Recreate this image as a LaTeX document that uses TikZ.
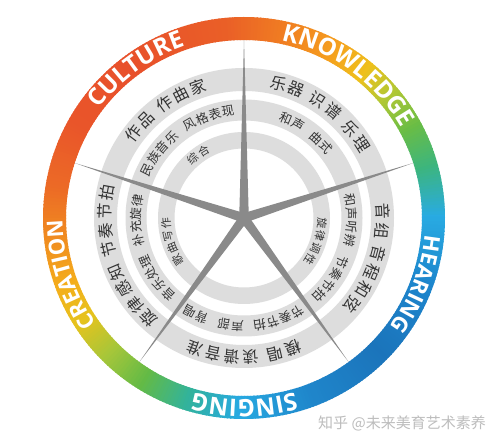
\documentclass[tikz,border=0pt]{standalone}
\usepackage{fontspec}
\setmainfont{Open Sans}
\newfontfamily\cjk{Noto Sans CJK SC}
\usetikzlibrary{decorations.text}

\definecolor{txt}{HTML}{333333}
\definecolor{bandc}{HTML}{DDDDDD}
\definecolor{spk}{HTML}{8A8A8A}
\definecolor{wmc}{HTML}{BDBDBD}
\definecolor{g000}{HTML}{29ABE2}
\definecolor{g015}{HTML}{3CB57E}
\definecolor{g028}{HTML}{6ABD45}
\definecolor{g040}{HTML}{B3C834}
\definecolor{g050}{HTML}{EFC01B}
\definecolor{g062}{HTML}{F59E1E}
\definecolor{g078}{HTML}{F07C22}
\definecolor{g095}{HTML}{EA5F27}
\definecolor{g126}{HTML}{E8502B}
\definecolor{g150}{HTML}{E9552A}
\definecolor{g170}{HTML}{EC6A26}
\definecolor{g185}{HTML}{F08A20}
\definecolor{g200}{HTML}{F4AE1B}
\definecolor{g212}{HTML}{E6C31D}
\definecolor{g225}{HTML}{A5C63A}
\definecolor{g238}{HTML}{63BA46}
\definecolor{g252}{HTML}{33B39A}
\definecolor{g268}{HTML}{27A9E1}
\definecolor{g290}{HTML}{1F86CB}
\definecolor{g315}{HTML}{1B74BB}
\definecolor{g340}{HTML}{1D86CD}

\makeatletter
\newcount\ac@nc
\newcount\ac@ng
\newcount\ac@id
\newdimen\ac@pos
\def\ac@gap{-}
% #1 radius, #2 centre angle, #3 font size, #4 char advance, #5 extra word gap, #6 list
\newcommand\ctxt[6]{%
  \global\ac@nc=0 \global\ac@ng=0
  \foreach \wch in {#6}{\ifx\wch\ac@gap\global\advance\ac@ng by 1 \else\global\advance\ac@nc by 1 \fi}%
  \pgfmathsetmacro\ac@L{\ac@nc*#4+\ac@ng*#5}%
  \global\ac@pos=0pt
  \foreach \wch in {#6}{%
    \ifx\wch\ac@gap
      \global\advance\ac@pos by #5pt
    \else
      \pgfmathsetmacro\ac@s{\ac@pos+#4/2-\ac@L/2}%
      \pgfmathsetmacro\ac@th{#2-\ac@s/#1*180/pi}%
      \global\advance\ac@id by 1
      \node[name=cj\the\ac@id, rotate=\ac@th-90, text=txt, inner sep=0pt,
            font=\cjk\fontsize{#3}{#3}\selectfont] at (\ac@th:#1) {\wch};
      \global\advance\ac@pos by #4pt
    \fi}%
}
\makeatother

% ring word: centre angle, font size, text
\newcommand\ringword[3]{%
  \pgfmathsetmacro\rwS{#1+42}\pgfmathsetmacro\rwE{#1-42}%
  \path[decorate,decoration={text along path,text align=center,text color=white,
     text={|\bfseries\fontsize{#2}{#2}\selectfont|#3}}]
     (\rwS:181.5) arc[start angle=\rwS,end angle=\rwE,radius=181.5];
}

\begin{document}
\begin{tikzpicture}[x=1pt,y=1pt]
\useasboundingbox (0,0) rectangle (495,446);
\fill[white] (0,0) rectangle (495,446);
\coordinate (O) at (244,228);
\begin{scope}[shift={(O)}]
  % grey bands
  \fill[bandc,even odd rule] (0,0) circle[radius=150] (0,0) circle[radius=127];
  \fill[bandc,even odd rule] (0,0) circle[radius=118.5] (0,0) circle[radius=97.5];
  \fill[bandc,even odd rule] (0,0) circle[radius=86] (0,0) circle[radius=69.5];
  % gradient ring
  \foreach \a/\b/\ca/\cb in {0/15/g000/g015,15/28/g015/g028,28/40/g028/g040,40/50/g040/g050,
     50/62/g050/g062,62/78/g062/g078,78/95/g078/g095,95/126/g095/g126,126/150/g126/g150,
     150/170/g150/g170,170/185/g170/g185,185/200/g185/g200,200/212/g200/g212,212/225/g212/g225,
     225/238/g225/g238,238/252/g238/g252,252/268/g252/g268,268/290/g268/g290,290/315/g290/g315,
     315/340/g315/g340,340/360/g340/g000}{
    \pgfmathtruncatemacro\n{\b-\a-1}
    \foreach \i in {0,...,\n}{
      \pgfmathtruncatemacro\p{round(100*\i/(\b-\a))}
      \pgfmathsetmacro\s{\a+\i}
      \pgfmathsetmacro\e{\a+\i+1.4}
      \colorlet{segc}{\cb!\p!\ca}
      \fill[segc] (\s:178) arc[start angle=\s,end angle=\e,radius=178]
         -- (\e:201) arc[start angle=\e,end angle=\s,radius=201] -- cycle;
    }
  }
  % star spokes
  \foreach \t in {90,18,-54,-126,162}{
    \fill[spk] ({\t+90}:4.8) -- (\t:178) -- ({\t-90}:4.8) -- cycle;
  }
  % CULTURE
  \ctxt{139}{126}{16}{19}{5}{作,品,-,作,曲,家}
  \ctxt{108}{126}{12.5}{13.5}{9}{民,族,音,乐,-,风,格,表,现}
  \ctxt{78}{126}{11}{13}{0}{综,合}
  % KNOWLEDGE
  \ctxt{139}{54}{16}{19}{5}{乐,器,-,识,谱,-,乐,理}
  \ctxt{108}{54}{12.5}{13.5}{9}{和,声,-,曲,式}
  % HEARING
  \ctxt{139}{-18}{16}{19}{5}{音,组,-,音,程,和,弦}
  \ctxt{108}{-18}{12.5}{13.5}{9}{和,声,听,辨,-,节,奏,节,拍}
  \ctxt{78}{-18}{11}{13}{0}{旋,律,调,性}
  % SINGING
  \ctxt{139}{-90}{16}{19}{5}{模,唱,-,读,谱,音,准}
  \ctxt{108}{-90}{12.5}{13.5}{9}{节,奏,节,拍,-,声,部,-,背,唱}
  % CREATION
  \ctxt{139}{198}{16}{19}{5}{旋,律,感,知,-,节,奏,节,拍}
  \ctxt{108}{198}{12.5}{13.5}{9}{音,乐,处,理,-,补,充,旋,律}
  \ctxt{78}{198}{11}{13}{0}{歌,曲,写,作}
  % ring words
  \ringword{126}{24}{CULTURE}
  \ringword{54}{24}{KNOWLEDGE}
  \ringword{-21}{22}{HEARING}
  \ringword{-90}{24}{SINGING}
  \ringword{198}{22}{CREATION}
\end{scope}
\node[name=wm, text=wmc, inner sep=0pt, font=\cjk\fontsize{15}{15}\selectfont] at (402,23) {知乎 @未来美育艺术素养};
\end{tikzpicture}
\end{document}
